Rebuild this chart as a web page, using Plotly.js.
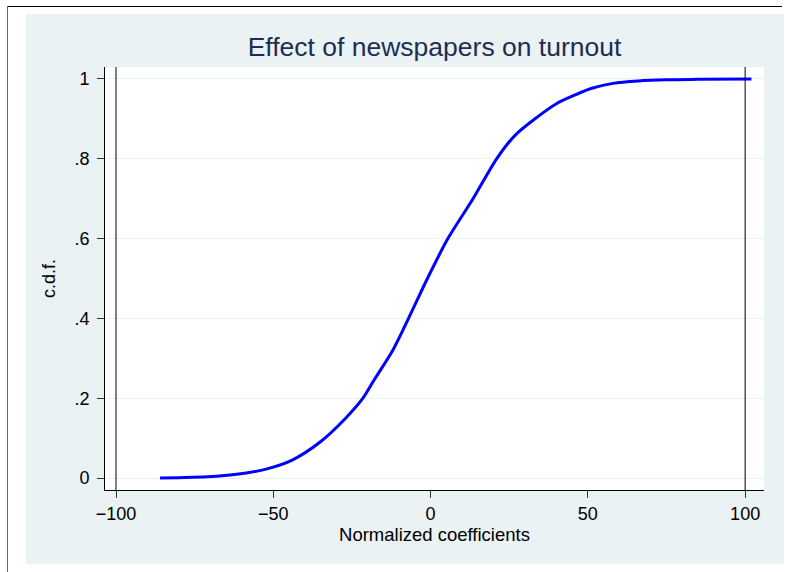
<!DOCTYPE html>
<html>
<head>
<meta charset="utf-8">
<script src="https://cdn.plot.ly/plotly-3.0.1.min.js"></script>
<style>
  html, body { margin: 0; padding: 0; background: #ffffff; width: 791px; height: 572px; overflow: hidden; }
  #topline { position: absolute; left: 7px; top: 6px; width: 775px; height: 1px; background: #000; }
  #leftline { position: absolute; left: 7px; top: 6px; width: 1px; height: 566px; background: #666; }
  #chart { position: absolute; left: 26px; top: 14px; width: 758px; height: 550px; }
</style>
</head>
<body>
<div id="topline"></div>
<div id="leftline"></div>
<div id="chart"></div>
<script>
// Data
const coefX = [-86, -80, -71, -61, -52, -44, -35, -27, -21.5, -18, -12, -7, -1, 5.5, 13.5, 21, 27, 34, 40, 46, 51, 58, 66, 75, 85, 102];
const cdfY  = [0, 0.001, 0.003, 0.01, 0.023, 0.045, 0.091, 0.15, 0.2, 0.245, 0.32, 0.4, 0.5, 0.6, 0.7, 0.8, 0.86, 0.905, 0.938, 0.96, 0.976, 0.989, 0.995, 0.998, 0.999, 1.0];
const xTickVals = [-100, -50, 0, 50, 100];
const xTickText = ['\u2212100', '\u221250', '0', '50', '100'];
const yTickVals = [0, 0.2, 0.4, 0.6, 0.8, 1];
const yTickText = ['0', '.2', '.4', '.6', '.8', '1'];
const refLinesX = [-100, 100];

const FONT = '"Liberation Sans", Arial, Helvetica, sans-serif';

const trace = {
  x: coefX, y: cdfY, type: 'scatter', mode: 'lines',
  line: { color: '#0000ff', width: 3, shape: 'spline', smoothing: 0.8 },
  hoverinfo: 'skip', showlegend: false
};

const shapes = refLinesX.map(v => ({
  type: 'line', xref: 'x', yref: 'paper', x0: v, x1: v, y0: 0, y1: 1,
  line: { color: '#000000', width: 1 }, layer: 'above'
}));

const layout = {
  width: 758, height: 550,
  margin: { l: 79, r: 20, t: 53, b: 74, pad: 0 },
  paper_bgcolor: '#eaf2f3',
  plot_bgcolor: '#ffffff',
  font: { family: FONT, size: 18, color: '#000000' },
  title: {
    text: 'Effect of newspapers on turnout',
    font: { family: FONT, size: 26.5, color: '#1e2d53' },
    xref: 'paper', x: 0.5, xanchor: 'center',
    yref: 'container', y: 0.94, yanchor: 'middle'
  },
  xaxis: {
    range: [-103.5, 106],
    tickvals: xTickVals, ticktext: xTickText,
    ticks: 'outside', ticklen: 7, tickwidth: 1, tickcolor: '#333333',
    showline: true, linecolor: '#000000', linewidth: 1,
    showgrid: false, zeroline: false,
    tickfont: { family: FONT, size: 18, color: '#000000' },
    title: { text: 'Normalized coefficients', font: { family: FONT, size: 18.5, color: '#000000' }, standoff: 2 }
  },
  yaxis: {
    range: [-0.03, 1.03],
    tickvals: yTickVals, ticktext: yTickText,
    ticks: 'outside', ticklen: 7, tickwidth: 1, tickcolor: '#333333',
    ticklabelstandoff: 4,
    showline: true, linecolor: '#000000', linewidth: 1,
    showgrid: true, gridcolor: '#eaf2f3', gridwidth: 1,
    zeroline: false,
    tickfont: { family: FONT, size: 18, color: '#000000' },
    title: { text: 'c.d.f.', font: { family: FONT, size: 18, color: '#000000' }, standoff: 14 }
  },
  shapes: shapes
};

Plotly.newPlot('chart', [trace], layout, { displayModeBar: false, staticPlot: true });
</script>
</body>
</html>
